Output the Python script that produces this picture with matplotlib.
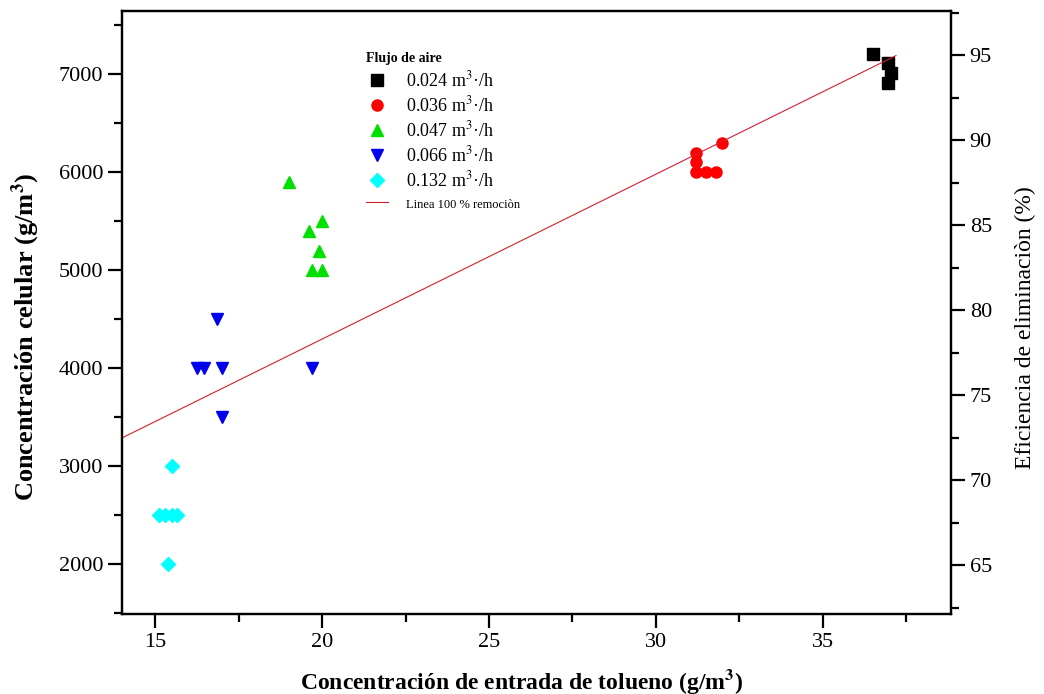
import numpy as np
import matplotlib
matplotlib.use("Agg")
import matplotlib.pyplot as plt
from matplotlib.ticker import MultipleLocator

plt.rcParams['font.family'] = ['Liberation Serif', 'DejaVu Serif']
plt.rcParams['mathtext.fontset'] = 'stix'

# datos
x_024 = [36.5, 36.95, 37.05, 36.95]
y_024 = [7210, 7110, 7010, 6910]

x_036 = [31.2, 31.2, 31.2, 31.5, 31.8, 32.0]
y_036 = [6200, 6100, 6000, 6000, 6000, 6300]

x_047 = [19.0, 20.0, 19.6, 19.9, 19.7, 20.0]
y_047 = [5900, 5500, 5400, 5200, 5000, 5000]

x_066 = [16.85, 16.25, 16.45, 17.0, 17.0, 19.7]
y_066 = [4500, 4000, 4000, 4000, 3500, 4000]

x_132 = [15.5, 15.1, 15.3, 15.5, 15.65, 15.37]
y_132 = [3000, 2500, 2500, 2500, 2500, 2000]

# linea 100 % remocion
x_linea = [14.0, 37.2]
y_linea = [3290, 7190]

etiquetas = ['0.024 m$^3$·/h', '0.036 m$^3$·/h', '0.047 m$^3$·/h',
             '0.066 m$^3$·/h', '0.132 m$^3$·/h']

fig = plt.figure(figsize=(10.44, 6.94), dpi=100)
ax = fig.add_axes([0.1169, 0.1148, 0.7940, 0.8693])

ms = 8
h1, = ax.plot(x_024, y_024, 's', color='black', ms=ms, label=etiquetas[0])
h2, = ax.plot(x_036, y_036, 'o', color='#ff0000', ms=ms, label=etiquetas[1])
h3, = ax.plot(x_047, y_047, '^', color='#00e000', ms=ms + 1, label=etiquetas[2])
h4, = ax.plot(x_066, y_066, 'v', color='#0000ee', ms=ms + 1, label=etiquetas[3])
h5, = ax.plot(x_132, y_132, 'D', color='#00ffff', ms=ms - 1, label=etiquetas[4])
h6, = ax.plot(x_linea, y_linea, '-', color='#d02030', lw=0.8,
              label='Linea 100 % remociòn')

ax.set_xlim(14.0, 38.85)
ax.set_ylim(1490, 7645)
ax.xaxis.set_major_locator(MultipleLocator(5))
ax.xaxis.set_minor_locator(MultipleLocator(2.5))
ax.yaxis.set_major_locator(MultipleLocator(1000))
ax.yaxis.set_minor_locator(MultipleLocator(500))

for s in ax.spines.values():
    s.set_linewidth(1.6)
ax.tick_params(which='major', length=10, width=1.6, labelsize=16, direction='out')
ax.tick_params(which='minor', length=6, width=1.6, direction='out')
ax.tick_params(top=False, right=False, which='both')

ax.set_xlabel('Concentración de entrada de tolueno (g/m$^\\mathbf{3}$)',
              fontsize=17, fontweight='bold')
ax.set_ylabel('Concentración celular (g/m$^\\mathbf{3}$)',
              fontsize=19, fontweight='bold')
ax.xaxis.set_label_coords(0.4825, -0.087)
ax.yaxis.set_label_coords(-0.096, 0.46)

ax2 = ax.twinx()
ax2.set_ylim(62.1, 97.6)
ax2.yaxis.set_major_locator(MultipleLocator(5))
ax2.yaxis.set_minor_locator(MultipleLocator(2.5))
ax2.tick_params(which='major', length=10, width=1.6, labelsize=16, direction='out')
ax2.tick_params(which='minor', length=6, width=1.6, direction='out')
for s in ax2.spines.values():
    s.set_linewidth(1.6)
ax2.set_ylabel('Eficiencia de eliminaciòn (%)', fontsize=17)
ax2.yaxis.set_label_coords(1.077, 0.476)

leg = ax.legend(handles=[h1, h2, h3, h4, h5, h6], loc='upper left',
                bbox_to_anchor=(0.335, 0.948), bbox_transform=fig.transFigure,
                frameon=False, fontsize=13, title='Flujo de aire',
                handlelength=1.2, handletextpad=1.0, labelspacing=0.28)
leg.get_title().set_fontweight('bold')
leg.get_title().set_fontsize(10)
leg._legend_box.align = 'left'
leg.get_texts()[5].set_fontsize(9)

fig.savefig('out.png', dpi=100)
